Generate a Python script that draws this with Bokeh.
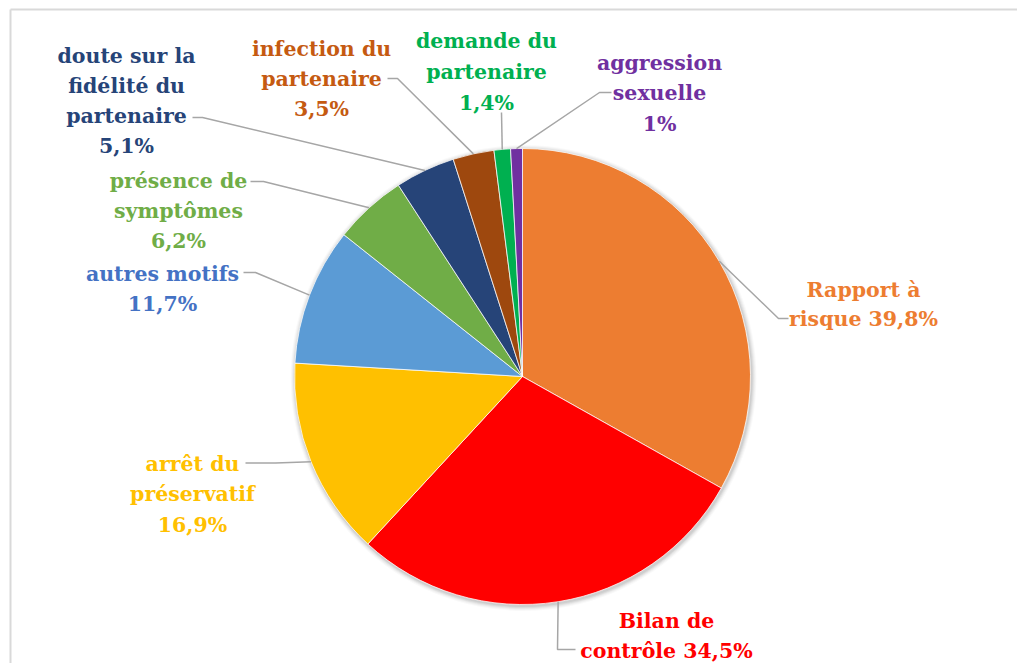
import math
from bokeh.plotting import figure
from bokeh.models import Range1d, ColumnDataSource
from bokeh.core.properties import value
from bokeh.embed import file_html
from bokeh.resources import INLINE

# ---------------- data ----------------
categories = ["Rapport à risque", "Bilan de contrôle", "arrêt du préservatif",
              "autres motifs", "présence de symptômes",
              "doute sur la fidélité du partenaire", "infection du partenaire",
              "demande du partenaire", "aggression sexuelle"]
values = [39.8, 34.5, 16.9, 11.7, 6.2, 5.1, 3.5, 1.4, 1.0]
pct_labels = ["39,8%", "34,5%", "16,9%", "11,7%", "6,2%", "5,1%", "3,5%", "1,4%", "1%"]
slice_colors = ["#ED7D31", "#FF0000", "#FFC000", "#5B9BD5", "#70AD47",
                "#264478", "#9E480E", "#00B050", "#7030A0"]
text_colors = ["#ED7D31", "#FF0000", "#FFC000", "#4472C4", "#70AD47",
               "#264478", "#C55A11", "#00B050", "#7030A0"]

# ---------------- layout (page pixel coordinates) ----------------
W, H = 1017, 663
CX, CY, R = 522, 376, 228
wrapped = ["Rapport à\nrisque {}", "Bilan de\ncontrôle {}", "arrêt du\npréservatif\n{}",
           "autres motifs\n{}", "présence de\nsymptômes\n{}",
           "doute sur la\nfidélité du\npartenaire\n{}", "infection du\npartenaire\n{}",
           "demande du\npartenaire\n{}", "aggression\nsexuelle\n{}"]
label_x = [863, 666, 192, 162, 178, 126, 321, 486, 659]
label_y0 = [289, 620, 463, 273, 180, 55, 48, 40, 62]
line_gap = [29.5, 30, 30.5, 30, 30, 30, 30, 31, 30.5]
leader_pts = [
    [(778, 318), (788, 318)],
    [(557, 649), (575, 649)],
    [(275, 462.5), (245, 462.5)],
    [(255, 272), (243, 272)],
    [(263, 181), (250, 181)],
    [(202, 117), (192, 117)],
    [(397, 78), (387, 78)],
    [(501, 112)],
    [(599, 92), (611, 92)],
]
LABEL_FONT = "DejaVu Serif"
LABEL_SIZE = "20.5px"

p = figure(width=W, height=H, output_backend="svg", toolbar_location=None,
           x_range=Range1d(0, W), y_range=Range1d(-H, 0),
           x_axis_type=None, y_axis_type=None, min_border=0,
           outline_line_color=None, background_fill_color="white",
           border_fill_color="white")
p.xgrid.visible = False
p.ygrid.visible = False

# frame (top and left edges visible in the reference)
p.multi_line(xs=[[10, W + 5], [10, 10]], ys=[[-9, -9], [-9, -H]],
             line_color="#D9D9D9", line_width=2)

# soft shadow
for dr, a in [(5, 0.025), (4, 0.03), (3, 0.04), (2, 0.05), (1, 0.06)]:
    p.circle(x=CX + 1, y=-(CY + 1.5), radius=R + dr, fill_color="black",
             fill_alpha=a, line_color=None)

total = sum(values)
starts, ends, mids = [], [], []
cum = 0.0
for v in values:
    a0 = math.pi / 2 - 2 * math.pi * cum / total
    cum += v
    a1 = math.pi / 2 - 2 * math.pi * cum / total
    starts.append(a0)
    ends.append(a1)
    mids.append((a0 + a1) / 2)

src = ColumnDataSource(dict(x=[CX] * len(values), y=[-CY] * len(values),
                            start=starts, end=ends, color=slice_colors,
                            cat=categories, val=values))
p.wedge(x="x", y="y", radius=R, start_angle="start", end_angle="end",
        direction="clock", fill_color="color", line_color="white",
        line_width=0.75, source=src)

# leader lines
lxs, lys = [], []
for i, m in enumerate(mids):
    ax = CX + R * math.cos(m)
    ay = -CY + R * math.sin(m)
    xs = [ax] + [pt[0] for pt in leader_pts[i]]
    ys = [ay] + [-pt[1] for pt in leader_pts[i]]
    lxs.append(xs)
    lys.append(ys)
p.multi_line(xs=lxs, ys=lys, line_color="#A6A6A6", line_width=1.5)

# labels
tx, ty, tt, tc = [], [], [], []
for i in range(len(values)):
    lines = wrapped[i].format(pct_labels[i]).split("\n")
    for k, ln in enumerate(lines):
        tx.append(label_x[i])
        ty.append(-(label_y0[i] + k * line_gap[i]))
        tt.append(ln)
        tc.append(text_colors[i])
p.text(x=tx, y=ty, text=tt, text_color=tc, text_font=value(LABEL_FONT),
       text_font_style="bold", text_font_size=LABEL_SIZE, text_align="center",
       text_baseline="alphabetic")

open("out.html", "w").write(file_html(p, INLINE))
